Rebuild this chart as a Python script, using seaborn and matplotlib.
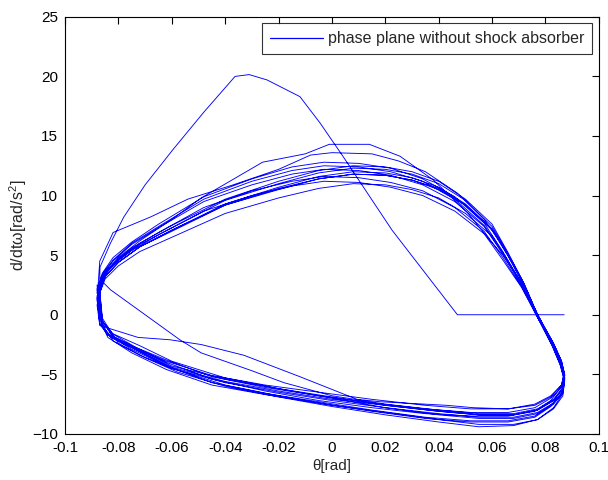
import matplotlib
matplotlib.use("Agg")
import matplotlib.pyplot as plt
import seaborn as sns
import pandas as pd

# ---- data ----
theta_transient = [0.087, 0.047, 0.0225, 0.0041, -0.0045, -0.012, -0.0243, -0.031, -0.0363,
                   -0.048, -0.0596, -0.070, -0.078, -0.083, -0.0869, -0.087, -0.083, -0.070,
                   -0.057, -0.049, -0.030, -0.018, 0.000, 0.020, 0.040, 0.055, 0.068, 0.077,
                   0.083, 0.0865, 0.0872, 0.086, 0.083, 0.077, 0.072, 0.066, 0.060, 0.050,
                   0.040, 0.030, 0.020, 0.008, -0.005, -0.020, -0.040, -0.060, -0.072, -0.080,
                   -0.085, -0.087]
omega_transient = [0.0, 0.0, 7.1, 13.3, 16.1, 18.3, 19.7, 20.15, 20.0,
                   17.0, 13.85, 10.9, 8.2, 6.0, 4.0, 3.0, 2.1, 0.0,
                   -2.1, -3.2, -4.7, -5.7, -6.8, -7.5, -8.0, -8.3, -8.3, -7.9,
                   -7.1, -6.1, -5.0, -3.9, -2.4, 0.0, 2.5, 5.0, 7.2, 9.2,
                   10.6, 11.3, 11.7, 11.8, 11.4, 10.6, 9.2, 7.1, 5.7, 4.4,
                   3.2, 1.9]

theta_grid_a = [-0.087, -0.086, -0.082, -0.072, -0.060, -0.040, -0.020, 0.000, 0.020, 0.040,
                0.055, 0.068, 0.077, 0.083, 0.0865, 0.0872, 0.086, 0.083, 0.077, 0.072,
                0.066, 0.060, 0.050, 0.040, 0.030, 0.020, 0.008, -0.005, -0.020, -0.040,
                -0.060, -0.072, -0.080, -0.085, -0.087]
theta_grid_b = [-0.088, -0.087, -0.084, -0.075, -0.062, -0.045, -0.025, -0.005, 0.015, 0.035,
                0.052, 0.066, 0.076, 0.082, 0.086, 0.087, 0.0855, 0.0825, 0.0765, 0.071,
                0.064, 0.057, 0.046, 0.034, 0.022, 0.010, -0.003, -0.015, -0.030, -0.048,
                -0.065, -0.075, -0.082, -0.086, -0.088]

theta_cycle2 = [-0.088, -0.087, -0.0727, -0.0607, -0.049, -0.033, -0.012, 0.0094, 0.018, 0.043,
                0.053, 0.066, 0.076, 0.082, 0.086, 0.087, 0.0855, 0.0825, 0.0765, 0.071,
                0.064, 0.057, 0.046, 0.034, 0.022, 0.010, -0.003, -0.015, -0.030, -0.048,
                -0.065, -0.075, -0.082, -0.086, -0.088]
theta_cycle4 = [-0.087, -0.087, -0.083, -0.073, -0.062, -0.045, -0.025, -0.005, 0.015, 0.035,
                0.052, 0.066, 0.076, 0.082, 0.086, 0.087, 0.0855, 0.082, 0.076, 0.071,
                0.064, 0.057, 0.047, 0.035, 0.025, 0.015, 0.000, -0.008, -0.020, -0.037,
                -0.054, -0.068, -0.082, -0.087]
theta_cycle7 = [-0.087, -0.086, -0.080, -0.070, -0.058, -0.040, -0.020, 0.000, 0.020, 0.040,
                0.055, 0.068, 0.077, 0.083, 0.0865, 0.0872, 0.086, 0.083, 0.077, 0.070,
                0.064, 0.059, 0.0506, 0.038, 0.0255, 0.014, -0.001, -0.010, -0.026, -0.049,
                -0.060, -0.072, -0.080, -0.085, -0.087]

omega_cycle1 = [1.5, -0.5, -1.9, -3.1, -4.5, -5.9, -6.8, -7.6, -8.2, -8.8, -9.2, -9.2, -8.8, -7.9, -6.8, -5.5, -4.2, -2.6, 0.0, 2.6, 5.2, 7.6, 9.7, 11.2, 12.0, 12.4, 12.5, 12.1, 11.2, 9.7, 7.5, 6.0, 4.7, 3.4, 2.1]
omega_cycle2 = [0.8, -0.9, -1.9, -2.1, -2.5, -3.4, -5.2, -7.1, -7.3, -7.6, -7.8, -7.9, -7.6, -6.9, -5.9, -4.9, -3.8, -2.3, 0.0, 2.3, 4.6, 6.8, 8.7, 10.0, 10.7, 11.1, 11.2, 10.8, 10.0, 8.7, 6.7, 5.4, 4.2, 3.1, 1.8]
omega_cycle3 = [2.0, -0.6, -1.6, -2.6, -3.9, -5.3, -6.2, -7.0, -7.8, -8.4, -8.7, -8.7, -8.3, -7.5, -6.5, -5.3, -4.1, -2.6, 0.0, 2.6, 5.1, 7.4, 9.6, 11.0, 11.8, 12.2, 12.3, 11.9, 11.0, 9.6, 7.3, 5.9, 4.6, 3.4, 2.2]
omega_cycle4 = [2.2, -0.2, -1.5, -2.8, -4.0, -5.4, -6.4, -7.2, -7.8, -8.3, -8.5, -8.5, -8.1, -7.2, -6.0, -5.0, -3.8, -2.2, 0.5, 3.0, 5.8, 8.0, 10.2, 12.0, 12.9, 13.5, 13.6, 13.4, 12.2, 10.9, 9.7, 8.2, 6.9, 4.5]
omega_cycle5 = [1.2, -0.4, -1.9, -3.2, -4.6, -5.9, -6.7, -7.4, -8.1, -8.7, -9.0, -9.0, -8.6, -7.7, -6.7, -5.5, -4.2, -2.6, 0.0, 2.4, 4.8, 7.0, 9.0, 10.4, 11.1, 11.5, 11.6, 11.2, 10.4, 9.0, 6.9, 5.6, 4.3, 3.2, 1.9]
omega_cycle6 = [0.6, -1.0, -2.0, -3.1, -4.4, -5.6, -6.4, -7.1, -7.6, -8.1, -8.4, -8.4, -8.0, -7.2, -6.2, -5.1, -3.9, -2.4, 0.0, 2.5, 5.0, 7.2, 9.3, 10.7, 11.5, 11.9, 12.0, 11.6, 10.7, 9.3, 7.1, 5.7, 4.4, 3.2, 1.9]
omega_cycle7 = [1.9, -0.3, -2.4, -3.6, -4.8, -6.0, -6.9, -7.7, -8.4, -9.0, -9.4, -9.3, -8.8, -7.8, -6.6, -5.4, -4.1, -2.5, 0.0, 3.0, 5.0, 6.3, 8.6, 11.3, 13.3, 14.3, 14.3, 13.5, 12.8, 9.8, 8.0, 6.2, 4.8, 3.5, 2.0]
omega_cycle8 = [1.4, -0.7, -1.6, -2.6, -3.8, -5.2, -6.1, -6.8, -7.4, -7.9, -8.2, -8.2, -7.8, -7.0, -6.1, -5.0, -3.9, -2.4, 0.0, 2.6, 5.2, 7.5, 9.7, 11.2, 12.0, 12.4, 12.5, 12.1, 11.2, 9.7, 7.4, 6.0, 4.6, 3.4, 2.1]
omega_cycle9 = [0.9, -0.9, -2.2, -3.4, -4.5, -5.7, -6.5, -7.2, -7.8, -8.3, -8.6, -8.6, -8.2, -7.4, -6.4, -5.3, -4.1, -2.5, 0.0, 2.3, 4.5, 6.6, 8.5, 9.8, 10.5, 10.9, 11.0, 10.6, 9.8, 8.5, 6.5, 5.3, 4.1, 3.0, 1.8]
omega_cycle10 = [2.5, -0.2, -1.7, -2.9, -4.3, -5.7, -6.6, -7.3, -8.0, -8.6, -8.9, -8.9, -8.5, -7.6, -6.6, -5.4, -4.2, -2.6, 0.0, 2.6, 5.3, 7.7, 9.9, 11.4, 12.3, 12.7, 12.8, 12.4, 11.4, 9.9, 7.6, 6.1, 4.8, 3.5, 2.2]
omega_cycle11 = [1.1, -0.6, -1.8, -3.0, -4.3, -5.4, -6.2, -6.9, -7.6, -8.1, -8.4, -8.4, -8.0, -7.2, -6.2, -5.1, -3.9, -2.4, 0.0, 2.4, 4.9, 7.1, 9.2, 10.5, 11.3, 11.7, 11.8, 11.4, 10.5, 9.2, 7.0, 5.7, 4.4, 3.2, 1.9]
omega_cycle12 = [1.6, -0.8, -1.7, -2.7, -3.9, -5.1, -5.9, -6.5, -7.1, -7.6, -7.9, -7.9, -7.5, -6.8, -5.9, -4.9, -3.7, -2.3, 0.0, 2.5, 5.1, 7.4, 9.5, 10.9, 11.7, 12.1, 12.2, 11.8, 10.9, 9.5, 7.3, 5.9, 4.5, 3.3, 2.0]

x_ticks = [-0.1, -0.08, -0.06, -0.04, -0.02, 0, 0.02, 0.04, 0.06, 0.08, 0.1]
x_tick_labels = ["-0.1", "-0.08", "-0.06", "-0.04", "-0.02", "0", "0.02", "0.04", "0.06", "0.08", "0.1"]
y_ticks = [-10, -5, 0, 5, 10, 15, 20, 25]
legend_label = "phase plane without shock absorber"

# ---- assemble the trajectory in order ----
cycles = [
    (theta_grid_a, omega_cycle1), (theta_cycle2, omega_cycle2), (theta_grid_a, omega_cycle3),
    (theta_cycle4, omega_cycle4), (theta_grid_b, omega_cycle5), (theta_grid_a, omega_cycle6),
    (theta_cycle7, omega_cycle7), (theta_grid_b, omega_cycle8), (theta_grid_a, omega_cycle9),
    (theta_grid_b, omega_cycle10), (theta_grid_a, omega_cycle11), (theta_grid_b, omega_cycle12),
]
theta_all = list(theta_transient)
omega_all = list(omega_transient)
for th, om in cycles:
    theta_all += th
    omega_all += om
df = pd.DataFrame({"theta": theta_all, "omega": omega_all})

# ---- style ----
sns.set_theme(style="white")
plt.rcParams["font.family"] = ["Liberation Sans", "DejaVu Sans"]
plt.rcParams["mathtext.fontset"] = "custom"
plt.rcParams["mathtext.rm"] = "Liberation Sans"

fig = plt.figure(figsize=(6.08, 4.8), dpi=100)
ax = fig.add_axes([0.107, 0.096, 0.878, 0.869])

sns.lineplot(data=df, x="theta", y="omega", sort=False, estimator=None,
             color="#0000ff", linewidth=0.65, label=legend_label, ax=ax)

ax.set_xlim(-0.1, 0.1)
ax.set_ylim(-10, 25)
ax.set_xticks(x_ticks)
ax.set_xticklabels(x_tick_labels)
ax.set_yticks(y_ticks)
ax.tick_params(direction="in", length=5, width=0.8, top=True, right=True,
               labelsize=11, colors="black", pad=5)
for s in ax.spines.values():
    s.set_color("black")
    s.set_linewidth(0.8)
ax.set_xlabel("θ[rad]", fontsize=11, labelpad=3)
ax.set_ylabel("d/dtω[rad/s$^2$]", fontsize=11.5, labelpad=2)

leg = ax.legend(loc="upper right", fontsize=11.5, frameon=True, fancybox=False,
                borderaxespad=0.4, handlelength=3.3, handletextpad=0.35,
                borderpad=0.5)
leg.get_frame().set_edgecolor("black")
leg.get_frame().set_linewidth(0.8)
for line in leg.get_lines():
    line.set_linewidth(0.9)

fig.savefig("out.png", dpi=100)
